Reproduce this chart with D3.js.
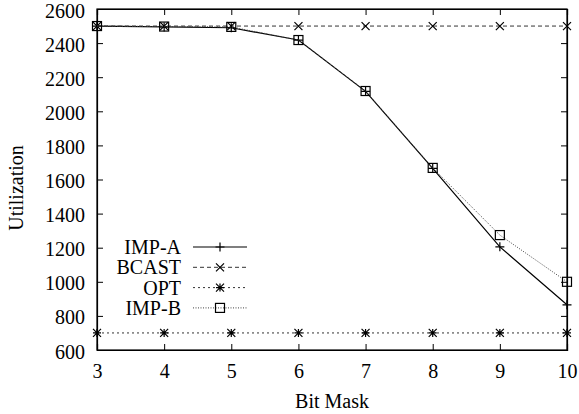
<!DOCTYPE html>
<html>
<head>
<meta charset="utf-8">
<script src="https://cdn.jsdelivr.net/npm/d3@7"></script>
<style>
  body { margin: 0; background: #fff; }
  svg { display: block; font-family: "Liberation Serif", "Times New Roman", serif; }
  svg text { font-family: "Liberation Serif", "Times New Roman", serif; }
</style>
</head>
<body>
<svg id="chart" width="579" height="414"></svg>
<script>
const bitMask = [3, 4, 5, 6, 7, 8, 9, 10];
const impA  = [2500, 2495, 2490, 2418, 2117, 1665, 1205, 865];
const bcast = [2500, 2500, 2500, 2500, 2500, 2500, 2500, 2500];
const opt   = [700, 700, 700, 700, 700, 700, 700, 700];
const impB  = [2500, 2497, 2495, 2418, 2119, 1668, 1274, 1000];
const yTicks = [600, 800, 1000, 1200, 1400, 1600, 1800, 2000, 2200, 2400, 2600];

const margin = {top: 9, right: 12, bottom: 64, left: 97};
const width = 579 - margin.left - margin.right;
const height = 414 - margin.top - margin.bottom;
const serif = "'Liberation Serif', 'Times New Roman', serif";

const svg = d3.select("#chart")
  .append("g")
  .attr("transform", `translate(${margin.left},${margin.top})`);

const x = d3.scaleLinear().domain([3, 10]).range([0, width]);
const y = d3.scaleLinear().domain([600, 2600]).range([height, 0]);

// axes, ticks on all four sides pointing inward
const xAxis = d3.axisBottom(x).tickValues(bitMask).tickSize(-6).tickPadding(14).tickFormat(d3.format("d"));
const yAxis = d3.axisLeft(y).tickValues(yTicks).tickSize(-6).tickPadding(12).tickFormat(d3.format("d"));

svg.append("g").attr("transform", `translate(0,${height})`).call(xAxis);
const gy = svg.append("g").call(yAxis);
svg.append("g").call(d3.axisTop(x).tickValues(bitMask).tickSize(-6).tickFormat(""));
svg.append("g").attr("transform", `translate(${width},0)`)
  .call(d3.axisRight(y).tickValues(yTicks).tickSize(-6).tickFormat(""));

svg.selectAll(".domain").attr("stroke", "#000").attr("stroke-width", 1.2);
svg.selectAll(".tick line").attr("stroke", "#000");
svg.selectAll(".tick text")
  .attr("fill", "#000")
  .style("font-family", serif)
  .style("font-size", "20px");
gy.selectAll(".tick text").attr("dy", "0.4em");

svg.append("rect").attr("width", width).attr("height", height)
  .attr("fill", "none").attr("stroke", "#000").attr("stroke-width", 1.2);

// axis titles
svg.append("text")
  .attr("x", width / 2).attr("y", 399)
  .attr("text-anchor", "middle").attr("font-size", 20)
  .text("Bit Mask");
svg.append("text")
  .attr("transform", `translate(${-74},${179}) rotate(-90)`)
  .attr("text-anchor", "middle").attr("font-size", 20)
  .text("Utilization");

// marker shapes
function drawMarker(g, type, cx, cy, color) {
  const s = 4.5;
  if (type === "plus") {
    g.append("path").attr("d", `M${cx - s},${cy}H${cx + s}M${cx},${cy - s}V${cy + s}`)
      .attr("stroke", color).attr("stroke-width", 1.2).attr("fill", "none");
  } else if (type === "cross") {
    g.append("path").attr("d", `M${cx - 4},${cy - 4}L${cx + 4},${cy + 4}M${cx - 4},${cy + 4}L${cx + 4},${cy - 4}`)
      .attr("stroke", color).attr("stroke-width", 1.2).attr("fill", "none");
  } else if (type === "star") {
    g.append("path").attr("d", `M${cx - 4},${cy}H${cx + 4}M${cx},${cy - 4}V${cy + 4}M${cx - 4},${cy - 4}L${cx + 4},${cy + 4}M${cx - 4},${cy + 4}L${cx + 4},${cy - 4}`)
      .attr("stroke", color).attr("stroke-width", 1.2).attr("fill", "none");
  } else if (type === "square") {
    g.append("rect").attr("x", cx - s).attr("y", cy - s)
      .attr("width", 2 * s).attr("height", 2 * s)
      .attr("stroke", color).attr("stroke-width", 1.2).attr("fill", "none");
  }
}

const series = [
  {name: "IMP-A", values: impA, marker: "plus", dash: null, color: "#000", sw: 1.2},
  {name: "BCAST", values: bcast, marker: "cross", dash: "4,3", color: "#333", sw: 1},
  {name: "OPT", values: opt, marker: "star", dash: "2,3", color: "#333", sw: 1},
  {name: "IMP-B", values: impB, marker: "square", dash: "1,1.5", color: "#444", sw: 1}
];

const line = d3.line().x(d => x(d[0])).y(d => y(d[1]));

series.forEach(function(s) {
  const pts = bitMask.map((b, i) => [b, s.values[i]]);
  svg.append("path")
    .datum(pts)
    .attr("d", line)
    .attr("fill", "none")
    .attr("stroke", s.color)
    .attr("stroke-width", s.sw)
    .attr("stroke-dasharray", s.dash);
  const mg = svg.append("g");
  pts.forEach(p => drawMarker(mg, s.marker, x(p[0]), y(p[1]), "#000"));
});

// legend
const legend = svg.append("g").attr("transform", `translate(${181 - margin.left},${247 - margin.top})`);
series.forEach(function(s, i) {
  const row = legend.append("g").attr("transform", `translate(0,${i * 20.3})`);
  row.append("text").attr("x", 0).attr("y", 7).attr("text-anchor", "end")
    .attr("font-size", 20).text(s.name);
  row.append("line").attr("x1", 12).attr("x2", 66).attr("y1", 0).attr("y2", 0)
    .attr("stroke", s.color).attr("stroke-width", s.sw).attr("stroke-dasharray", s.dash);
  drawMarker(row, s.marker, 39, 0, "#000");
});
</script>
</body>
</html>
